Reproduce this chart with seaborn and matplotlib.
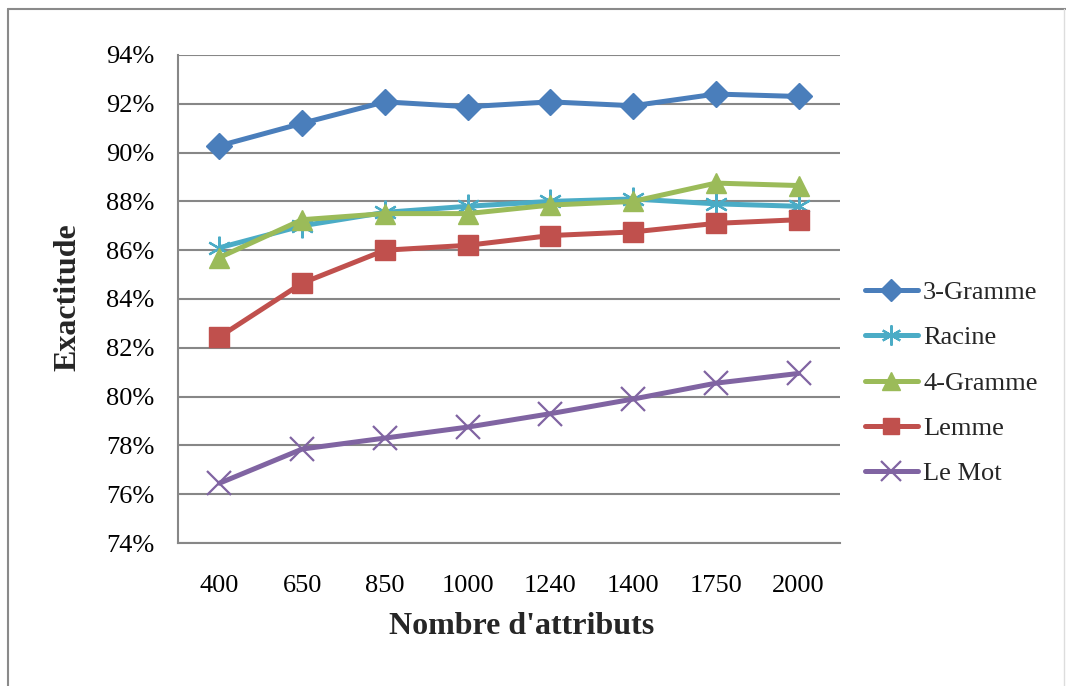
import matplotlib
matplotlib.use("Agg")
import matplotlib.pyplot as plt
import seaborn as sns
import pandas as pd
from matplotlib.ticker import FuncFormatter, FixedLocator
from matplotlib.lines import Line2D

categories = ["400", "650", "850", "1000", "1240", "1400", "1750", "2000"]
trigramme = [90.28, 91.2, 92.08, 91.88, 92.08, 91.92, 92.4, 92.3]
racine = [86.1, 87.0, 87.55, 87.8, 88.0, 88.1, 87.9, 87.8]
quadrigramme = [85.7, 87.25, 87.5, 87.5, 87.85, 88.0, 88.75, 88.65]
lemme = [82.45, 84.65, 86.0, 86.2, 86.6, 86.75, 87.1, 87.25]
le_mot = [76.45, 77.85, 78.3, 78.75, 79.3, 79.9, 80.55, 80.95]
series_names = ["3-Gramme", "Racine", "4-Gramme", "Lemme", "Le Mot"]
yticks = [74, 76, 78, 80, 82, 84, 86, 88, 90, 92, 94]

series_values = [trigramme, racine, quadrigramme, lemme, le_mot]
colors = ["#4A7EBB", "#4BACC6", "#9BBB59", "#C0504D", "#8064A2"]
markers = ["D", (6, 2, 0), "^", "s", "x"]
msizes = [13, 17, 15, 14, 17]
mews = [1, 1.6, 1, 1, 1.6]

sns.set_theme(style="white")
plt.rcParams["font.family"] = ["Liberation Serif", "DejaVu Serif"]

fig = plt.figure(figsize=(10.66, 6.86), dpi=100)
ax = fig.add_axes([178 / 1066, 1 - 543 / 686, (840 - 178) / 1066, (543 - 55) / 686])

handles = []
for name, vals, c, m, ms, mew in zip(series_names, series_values, colors, markers, msizes, mews):
    df = pd.DataFrame({"cat": categories, "val": vals})
    sns.lineplot(data=df, x="cat", y="val", ax=ax, color=c, linewidth=3.6,
                 marker=m, markersize=ms, markeredgewidth=mew,
                 markeredgecolor=c, markerfacecolor=c, sort=False, legend=False)
    handles.append(Line2D([0], [0], color=c, linewidth=3.6, marker=m,
                          markersize=ms * 0.85, markeredgewidth=mew,
                          markeredgecolor=c, markerfacecolor=c, label=name))

ax.set_xlim(-0.5, 7.5)
ax.set_ylim(74, 94)
ax.yaxis.set_major_locator(FixedLocator(yticks))
ax.yaxis.set_major_formatter(FuncFormatter(lambda v, p: f"{v:.0f}%"))
ax.grid(axis="y", color="#878787", linewidth=1.5)
ax.set_axisbelow(True)
for s in ["top", "right"]:
    ax.spines[s].set_visible(False)
for s in ["left", "bottom"]:
    ax.spines[s].set_color("#878787")
    ax.spines[s].set_linewidth(1.5)
ax.tick_params(axis="both", length=0, labelsize=19, colors="black")
ax.tick_params(axis="y", pad=17)
ax.tick_params(axis="x", pad=23)

ax.set_xlabel("Nombre d'attributs", fontsize=23, fontweight="bold")
ax.set_ylabel("Exactitude", fontsize=23, fontweight="bold")
ax.xaxis.label.set_va("center")
ax.yaxis.label.set_va("center")
ax.xaxis.set_label_coords((522 - 178) / 662, (543 - 627) / 488)
ax.yaxis.set_label_coords((68 - 178) / 662, 0.504)

fig.legend(handles=handles, loc="center left",
           bbox_to_anchor=(865 / 1066, 1 - 383 / 686), frameon=False,
           fontsize=19, handlelength=2.0, handletextpad=0.2,
           labelspacing=0.83, borderpad=0, borderaxespad=0)

# chart border
fig.add_artist(Line2D([8 / 1066, 8 / 1066], [0, 1 - 9 / 686], transform=fig.transFigure,
                      color="#8a8a8a", linewidth=1.5))
fig.add_artist(Line2D([8 / 1066, 1], [1 - 9 / 686, 1 - 9 / 686], transform=fig.transFigure,
                      color="#8a8a8a", linewidth=1.5))
fig.add_artist(Line2D([1064 / 1066, 1064 / 1066], [0, 1 - 9 / 686], transform=fig.transFigure,
                      color="#dddddd", linewidth=1))

fig.savefig("out.png", dpi=100)
